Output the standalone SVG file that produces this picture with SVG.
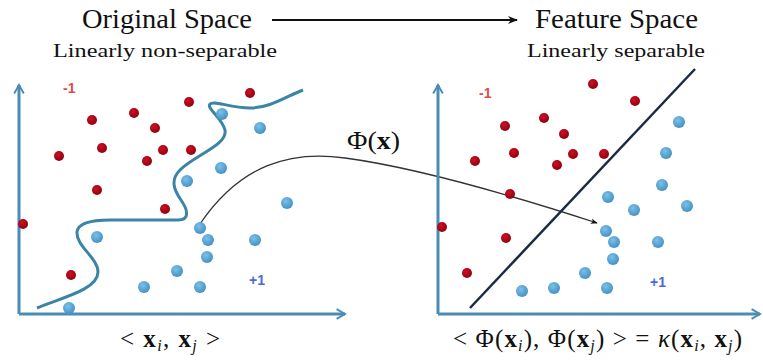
<svg xmlns="http://www.w3.org/2000/svg" width="763" height="361" viewBox="0 0 763 361">
<style>
.title{font-family:"Liberation Serif","DejaVu Serif",serif;font-size:27px;fill:#111}
.sub{font-family:"Liberation Serif","DejaVu Serif",serif;font-size:19px;fill:#111}
.math{font-family:"Liberation Serif","DejaVu Serif",serif;font-size:25px;fill:#111}
.b{font-weight:bold}
.it{font-style:italic}
.axis{stroke:#4a8db4;stroke-width:3;fill:none}
.r{fill:url(#gr)}
.bl{fill:url(#gb)}
.lab{font-family:"Liberation Sans","DejaVu Sans",sans-serif;font-size:14px;font-weight:bold}
</style>
<defs>
<radialGradient id="gr" cx="0.4" cy="0.35" r="0.7">
<stop offset="0" stop-color="#d01020"/>
<stop offset="1" stop-color="#8a0010"/>
</radialGradient>
<radialGradient id="gb" cx="0.4" cy="0.35" r="0.7">
<stop offset="0" stop-color="#7cc0e8"/>
<stop offset="1" stop-color="#3f8fc2"/>
</radialGradient>
<marker id="ax" viewBox="0 0 10 10" refX="8" refY="5" markerWidth="4" markerHeight="4" orient="auto" markerUnits="strokeWidth">
<polyline points="1,1 8,5 1,9" fill="none" stroke="#4a8db4" stroke-width="1.6"/>
</marker>
<marker id="ah" viewBox="0 0 10 10" refX="9" refY="5" markerWidth="7" markerHeight="7" orient="auto" markerUnits="userSpaceOnUse">
<path d="M0,1 L10,5 L0,9 L3,5 Z" fill="#111"/>
</marker>
<marker id="ah2" viewBox="0 0 10 10" refX="9" refY="5" markerWidth="10" markerHeight="10" orient="auto" markerUnits="userSpaceOnUse">
<path d="M0,1 L10,5 L0,9 L3,5 Z" fill="#111"/>
</marker>
</defs>
<rect width="763" height="361" fill="#fff"/>

<g id="titles">
<text class="title" x="82" y="28" textLength="170" lengthAdjust="spacingAndGlyphs">Original Space</text>
<text class="sub" x="53" y="57" textLength="224" lengthAdjust="spacingAndGlyphs">Linearly non-separable</text>
<text class="title" x="535" y="28" textLength="163" lengthAdjust="spacingAndGlyphs">Feature Space</text>
<text class="sub" x="527" y="57" textLength="178" lengthAdjust="spacingAndGlyphs">Linearly separable</text>
</g>

<g id="connectors">
<line x1="272" y1="20" x2="517" y2="20" stroke="#111" stroke-width="2" marker-end="url(#ah2)"/>
<path d="M200,224 C240,165 290,150 345,158 C420,168 520,198 597,223" fill="none" stroke="#333" stroke-width="1.3" marker-end="url(#ah)"/>
</g>

<g id="left-space">
<path class="axis" d="M19,314 L19,85" marker-end="url(#ax)"/>
<path class="axis" d="M19,314 L345,314" marker-end="url(#ax)"/>
<path d="M37,308 C60,298 98,290 98,272 C98,258 76,246 77,232 C78,222 95,220 110,220 L178,220 C190,220 188,210 181,200 C174,190 170,180 180,170 C195,155 228,145 225,130 C222,118 206,108 210,104 C214,100 230,108 250,108 C270,108 285,97 303,90" fill="none" stroke="#3c84a6" stroke-width="3"/>
<text class="lab" x="63" y="93" fill="#e04a4a">-1</text>
<text class="lab" x="249" y="285" fill="#4a6cd4">+1</text>
<g id="left-red">
<circle class="r" cx="250" cy="93" r="5"/>
<circle class="r" cx="189" cy="102" r="5"/>
<circle class="r" cx="92" cy="120" r="5"/>
<circle class="r" cx="134" cy="113" r="5"/>
<circle class="r" cx="155" cy="128" r="5"/>
<circle class="r" cx="102" cy="148" r="5"/>
<circle class="r" cx="163" cy="150" r="5"/>
<circle class="r" cx="191" cy="150" r="5"/>
<circle class="r" cx="59" cy="156" r="5"/>
<circle class="r" cx="147" cy="161" r="5"/>
<circle class="r" cx="97" cy="190" r="5"/>
<circle class="r" cx="165" cy="209" r="5"/>
<circle class="r" cx="23" cy="224" r="5"/>
<circle class="r" cx="71" cy="275" r="5"/>
</g>
<g id="left-blue">
<circle class="bl" cx="222" cy="114" r="6"/>
<circle class="bl" cx="260" cy="128" r="6"/>
<circle class="bl" cx="221" cy="168" r="6"/>
<circle class="bl" cx="187" cy="181" r="6"/>
<circle class="bl" cx="287" cy="203" r="6"/>
<circle class="bl" cx="97" cy="237" r="6"/>
<circle class="bl" cx="200" cy="228" r="6"/>
<circle class="bl" cx="208" cy="240" r="6"/>
<circle class="bl" cx="255" cy="240" r="6"/>
<circle class="bl" cx="207" cy="257" r="6"/>
<circle class="bl" cx="177" cy="271" r="6"/>
<circle class="bl" cx="144" cy="287" r="6"/>
<circle class="bl" cx="200" cy="287" r="6"/>
<circle class="bl" cx="69" cy="308" r="6"/>
</g>
</g>

<g id="right-space">
<path class="axis" d="M438,314 L438,85" marker-end="url(#ax)"/>
<path class="axis" d="M438,314 L760,314" marker-end="url(#ax)"/>
<line x1="470" y1="308" x2="695" y2="69" stroke="#1c2a44" stroke-width="2.5"/>
<text class="lab" x="479" y="98" fill="#e04a4a">-1</text>
<text class="lab" x="650" y="287" fill="#4a6cd4">+1</text>
<g id="right-red">
<circle class="r" cx="593" cy="84" r="5"/>
<circle class="r" cx="635" cy="101" r="5"/>
<circle class="r" cx="505" cy="126" r="5"/>
<circle class="r" cx="544" cy="118" r="5"/>
<circle class="r" cx="564" cy="134" r="5"/>
<circle class="r" cx="514" cy="153" r="5"/>
<circle class="r" cx="573" cy="154" r="5"/>
<circle class="r" cx="604" cy="154" r="5"/>
<circle class="r" cx="475" cy="161" r="5"/>
<circle class="r" cx="557" cy="165" r="5"/>
<circle class="r" cx="510" cy="194" r="5"/>
<circle class="r" cx="442" cy="227" r="5"/>
<circle class="r" cx="506" cy="238" r="5"/>
<circle class="r" cx="467" cy="273" r="5"/>
</g>
<g id="right-blue">
<circle class="bl" cx="679" cy="122" r="6"/>
<circle class="bl" cx="666" cy="153" r="6"/>
<circle class="bl" cx="662" cy="185" r="6"/>
<circle class="bl" cx="608" cy="197" r="6"/>
<circle class="bl" cx="634" cy="210" r="6"/>
<circle class="bl" cx="687" cy="206" r="6"/>
<circle class="bl" cx="606" cy="231" r="6"/>
<circle class="bl" cx="614" cy="242" r="6"/>
<circle class="bl" cx="658" cy="242" r="6"/>
<circle class="bl" cx="613" cy="259" r="6"/>
<circle class="bl" cx="585" cy="273" r="6"/>
<circle class="bl" cx="522" cy="291" r="6"/>
<circle class="bl" cx="554" cy="288" r="6"/>
<circle class="bl" cx="607" cy="288" r="6"/>
</g>
</g>

<g id="formulas">
<text class="math" x="347" y="149" textLength="53" lengthAdjust="spacingAndGlyphs">Φ(<tspan class="b">x</tspan>)</text>
<text class="math" x="120" y="347" textLength="100" lengthAdjust="spacing">&lt; <tspan class="b">x</tspan><tspan class="it" font-size="16" dy="4">i</tspan><tspan dy="-4">, </tspan><tspan class="b">x</tspan><tspan class="it" font-size="16" dy="4">j</tspan><tspan dy="-4"> &gt;</tspan></text>
<text class="math" x="453" y="347" textLength="289" lengthAdjust="spacing">&lt; Φ(<tspan class="b">x</tspan><tspan class="it" font-size="16" dy="4">i</tspan><tspan dy="-4">), Φ(</tspan><tspan class="b">x</tspan><tspan class="it" font-size="16" dy="4">j</tspan><tspan dy="-4">) &gt; = </tspan><tspan class="it">κ</tspan>(<tspan class="b">x</tspan><tspan class="it" font-size="16" dy="4">i</tspan><tspan dy="-4">, </tspan><tspan class="b">x</tspan><tspan class="it" font-size="16" dy="4">j</tspan><tspan dy="-4">)</tspan></text>
</g>
</svg>
